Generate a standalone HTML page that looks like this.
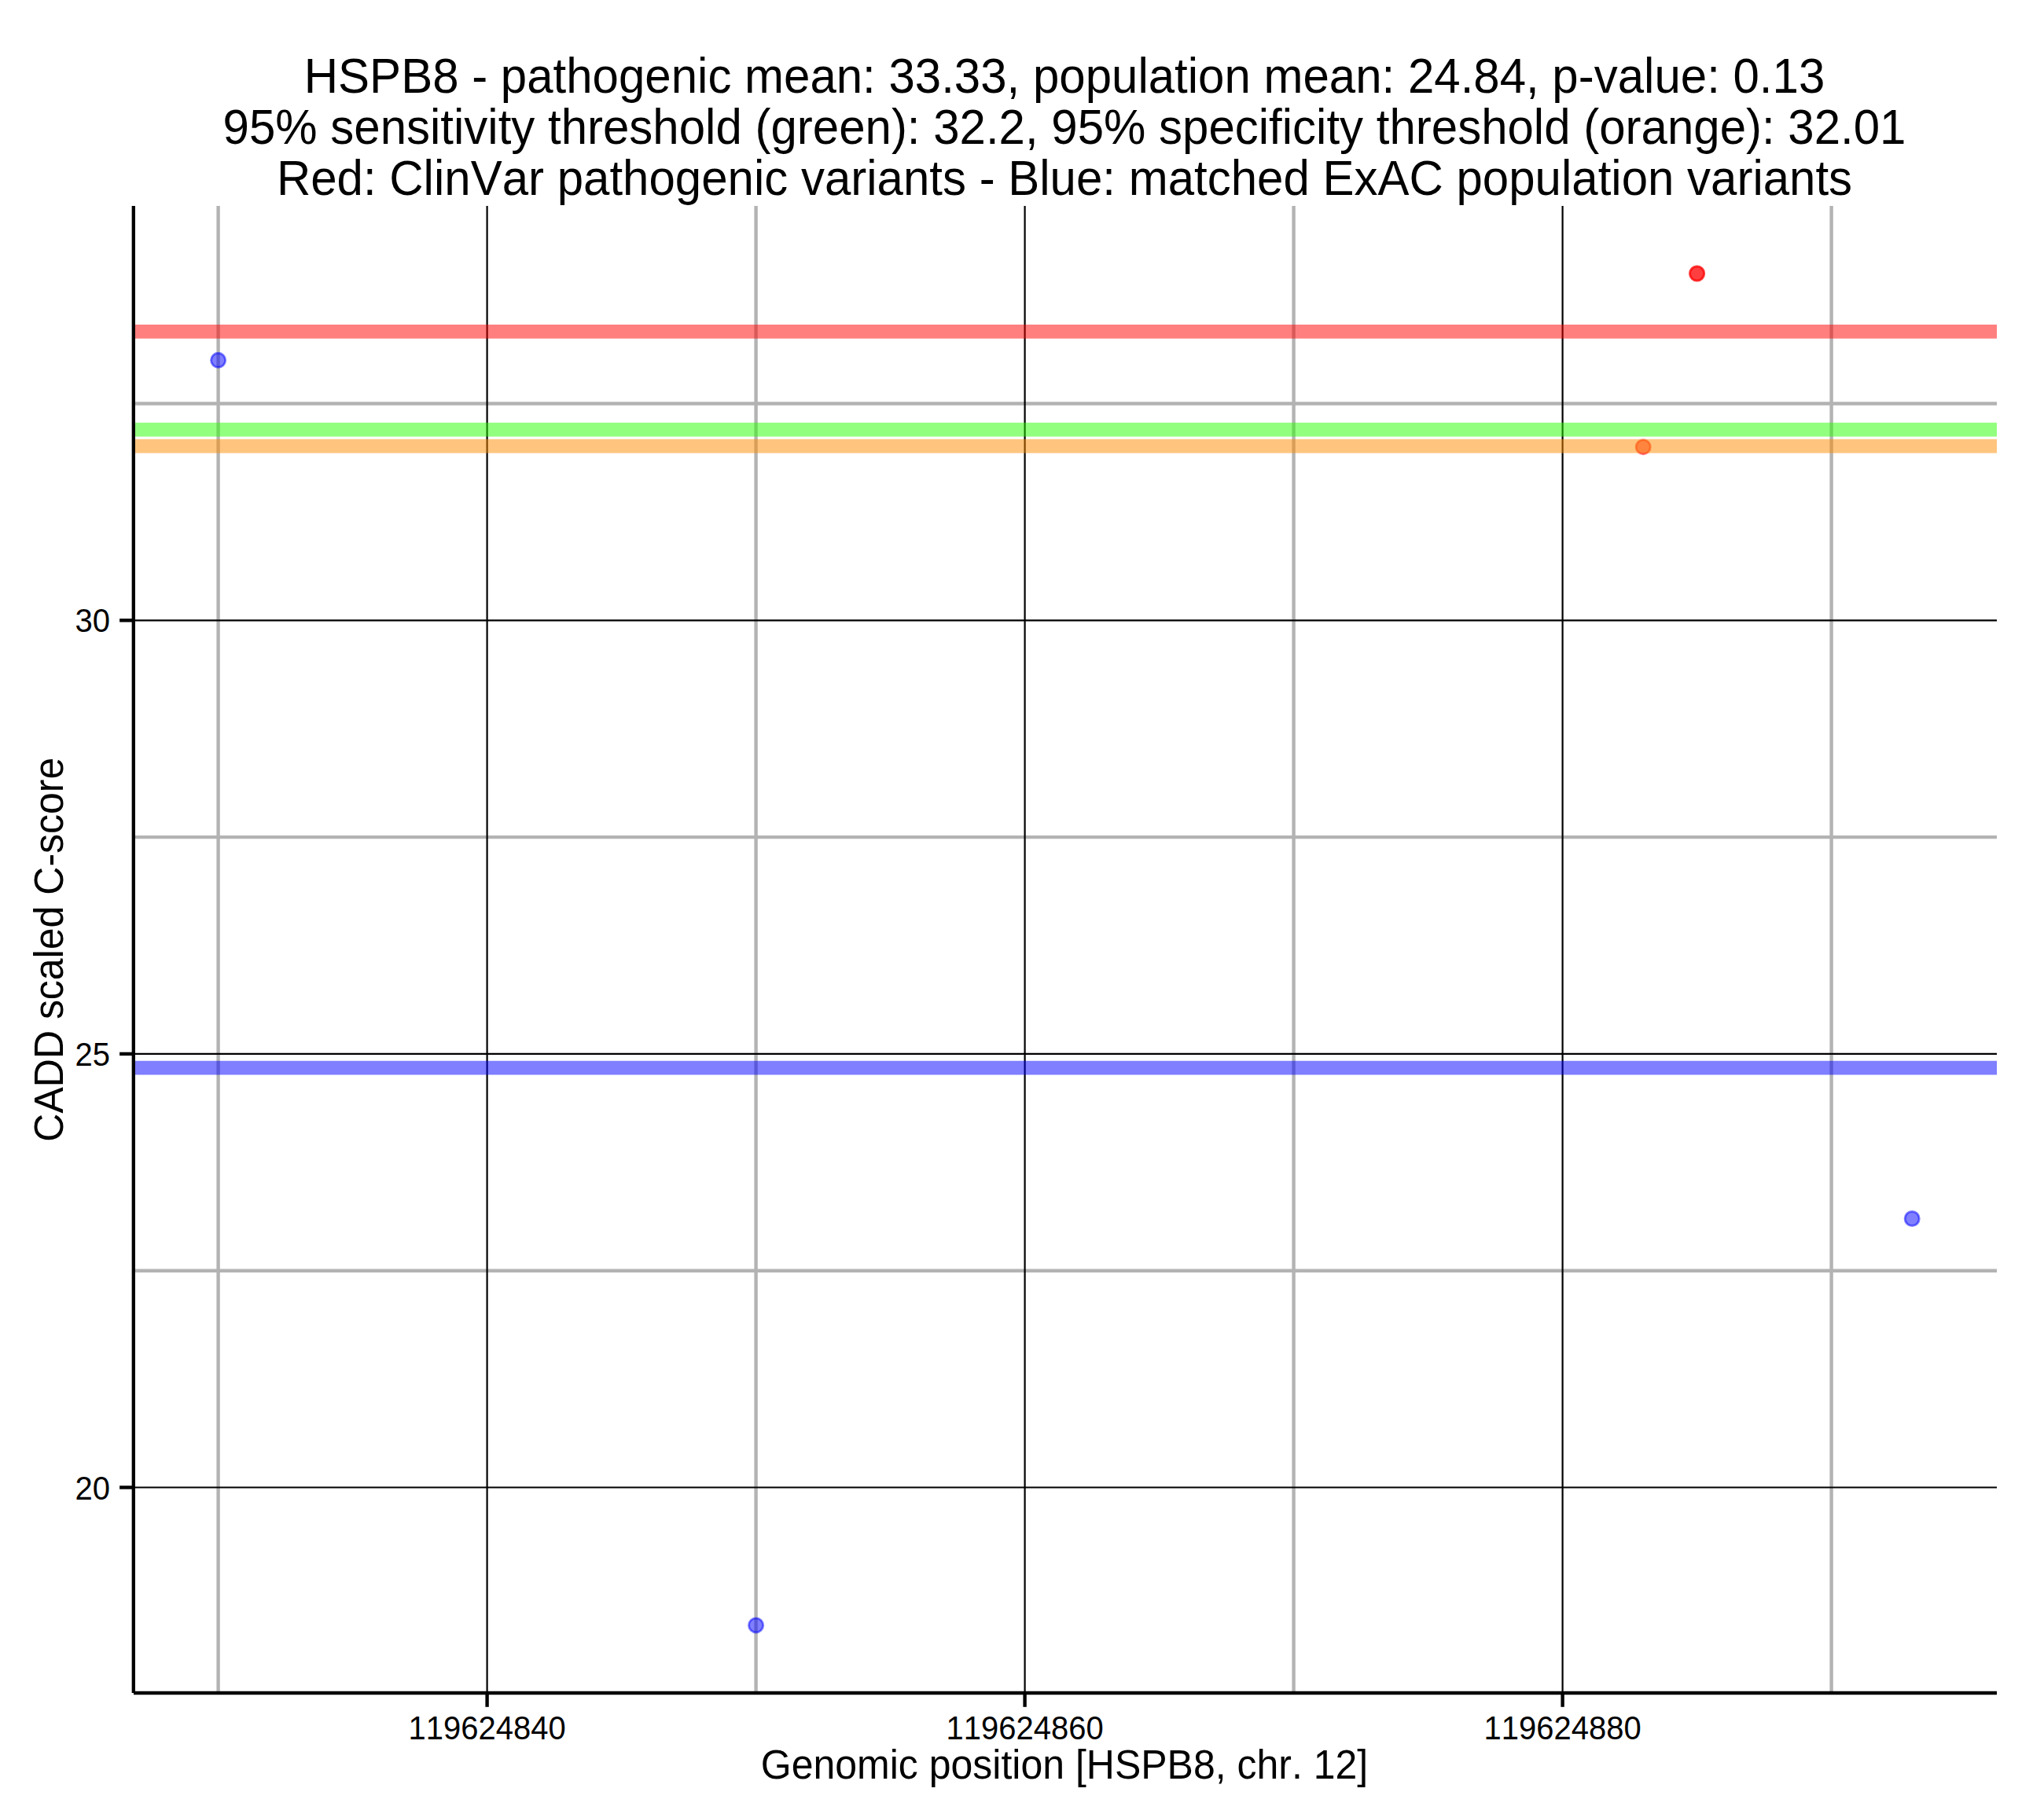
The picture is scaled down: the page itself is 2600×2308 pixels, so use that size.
<!DOCTYPE html>
<html><head><meta charset="utf-8"><title>HSPB8 CADD plot</title>
<style>html,body{margin:0;padding:0;background:#fff;}svg{display:block;}text{font-kerning:none;}</style></head>
<body><svg width="2600" height="2308" viewBox="0 0 2600 2308">
<rect x="0" y="0" width="2600" height="2308" fill="#FFFFFF"/>
<line x1="277.60" y1="262.0" x2="277.60" y2="2154.0" stroke="#B3B3B3" stroke-width="4.4"/>
<line x1="961.60" y1="262.0" x2="961.60" y2="2154.0" stroke="#B3B3B3" stroke-width="4.4"/>
<line x1="1645.60" y1="262.0" x2="1645.60" y2="2154.0" stroke="#B3B3B3" stroke-width="4.4"/>
<line x1="2329.60" y1="262.0" x2="2329.60" y2="2154.0" stroke="#B3B3B3" stroke-width="4.4"/>
<line x1="170.0" y1="513.50" x2="2540.0" y2="513.50" stroke="#B3B3B3" stroke-width="4.4"/>
<line x1="170.0" y1="1065.10" x2="2540.0" y2="1065.10" stroke="#B3B3B3" stroke-width="4.4"/>
<line x1="170.0" y1="1616.70" x2="2540.0" y2="1616.70" stroke="#B3B3B3" stroke-width="4.4"/>
<line x1="619.60" y1="262.0" x2="619.60" y2="2154.0" stroke="#000" stroke-width="2.2"/>
<line x1="1303.60" y1="262.0" x2="1303.60" y2="2154.0" stroke="#000" stroke-width="2.2"/>
<line x1="1987.60" y1="262.0" x2="1987.60" y2="2154.0" stroke="#000" stroke-width="2.2"/>
<line x1="170.0" y1="789.30" x2="2540.0" y2="789.30" stroke="#000" stroke-width="2.2"/>
<line x1="170.0" y1="1340.90" x2="2540.0" y2="1340.90" stroke="#000" stroke-width="2.2"/>
<line x1="170.0" y1="1892.50" x2="2540.0" y2="1892.50" stroke="#000" stroke-width="2.2"/>
<circle cx="277.60" cy="458.34" r="9.1" fill="rgba(0,0,255,0.5)" stroke="rgba(0,0,255,0.5)" stroke-width="2.8"/>
<circle cx="961.60" cy="2067.91" r="9.1" fill="rgba(0,0,255,0.5)" stroke="rgba(0,0,255,0.5)" stroke-width="2.8"/>
<circle cx="2432.20" cy="1550.51" r="9.1" fill="rgba(0,0,255,0.5)" stroke="rgba(0,0,255,0.5)" stroke-width="2.8"/>
<circle cx="2158.60" cy="348.02" r="9.1" fill="rgba(255,0,0,0.5)" stroke="rgba(255,0,0,0.5)" stroke-width="2.8"/>
<circle cx="2158.60" cy="348.02" r="9.1" fill="rgba(255,0,0,0.5)" stroke="rgba(255,0,0,0.5)" stroke-width="2.8"/>
<circle cx="2090.20" cy="568.66" r="9.1" fill="rgba(255,0,0,0.5)" stroke="rgba(255,0,0,0.5)" stroke-width="2.8"/>
<line x1="170.0" y1="421.93" x2="2540.0" y2="421.93" stroke="rgba(255,0,0,0.5)" stroke-width="17.8"/>
<line x1="170.0" y1="546.60" x2="2540.0" y2="546.60" stroke="rgba(40,255,0,0.5)" stroke-width="17.8"/>
<line x1="170.0" y1="567.56" x2="2540.0" y2="567.56" stroke="rgba(255,140,0,0.5)" stroke-width="17.8"/>
<line x1="170.0" y1="1358.55" x2="2540.0" y2="1358.55" stroke="rgba(0,0,255,0.5)" stroke-width="17.8"/>
<line x1="169.8" y1="262.0" x2="169.8" y2="2154.0" stroke="#000" stroke-width="4.3"/>
<line x1="170.0" y1="2154.0" x2="2540.0" y2="2154.0" stroke="#000" stroke-width="4.3"/>
<line x1="152.1" y1="789.30" x2="169.8" y2="789.30" stroke="#000" stroke-width="4.4"/>
<line x1="152.1" y1="1340.90" x2="169.8" y2="1340.90" stroke="#000" stroke-width="4.4"/>
<line x1="152.1" y1="1892.50" x2="169.8" y2="1892.50" stroke="#000" stroke-width="4.4"/>
<line x1="619.60" y1="2154.0" x2="619.60" y2="2171.8" stroke="#000" stroke-width="4.4"/>
<line x1="1303.60" y1="2154.0" x2="1303.60" y2="2171.8" stroke="#000" stroke-width="4.4"/>
<line x1="1987.60" y1="2154.0" x2="1987.60" y2="2171.8" stroke="#000" stroke-width="4.4"/>
<text transform="translate(140.1,804.40) scale(1,1.065)" font-family="Liberation Sans, Arial, Helvetica, sans-serif" font-size="40" text-anchor="end">30</text>
<text transform="translate(140.1,1356.00) scale(1,1.065)" font-family="Liberation Sans, Arial, Helvetica, sans-serif" font-size="40" text-anchor="end">25</text>
<text transform="translate(140.1,1907.60) scale(1,1.065)" font-family="Liberation Sans, Arial, Helvetica, sans-serif" font-size="40" text-anchor="end">20</text>
<text transform="translate(619.60,2213.2) scale(1,1.065)" font-family="Liberation Sans, Arial, Helvetica, sans-serif" font-size="40" text-anchor="middle">119624840</text>
<text transform="translate(1303.60,2213.2) scale(1,1.065)" font-family="Liberation Sans, Arial, Helvetica, sans-serif" font-size="40" text-anchor="middle">119624860</text>
<text transform="translate(1987.60,2213.2) scale(1,1.065)" font-family="Liberation Sans, Arial, Helvetica, sans-serif" font-size="40" text-anchor="middle">119624880</text>
<text transform="translate(1354,2263.1) scale(1,1.035)" font-family="Liberation Sans, Arial, Helvetica, sans-serif" font-size="50" text-anchor="middle">Genomic position [HSPB8, chr. 12]</text>
<text transform="translate(80,1208.2) rotate(-90) scale(1,1.035)" font-family="Liberation Sans, Arial, Helvetica, sans-serif" font-size="50" text-anchor="middle">CADD scaled C-score</text>
<text transform="translate(1354,118.1) scale(1,1.045)" font-family="Liberation Sans, Arial, Helvetica, sans-serif" font-size="60" text-anchor="middle">HSPB8 - pathogenic mean: 33.33, population mean: 24.84, p-value: 0.13</text>
<text transform="translate(1354,183.3) scale(1,1.045)" font-family="Liberation Sans, Arial, Helvetica, sans-serif" font-size="60" text-anchor="middle">95% sensitivity threshold (green): 32.2, 95% specificity threshold (orange): 32.01</text>
<text transform="translate(1354,247.9) scale(1,1.045)" font-family="Liberation Sans, Arial, Helvetica, sans-serif" font-size="60" text-anchor="middle">Red: ClinVar pathogenic variants - Blue: matched ExAC population variants</text>
</svg></body></html>
